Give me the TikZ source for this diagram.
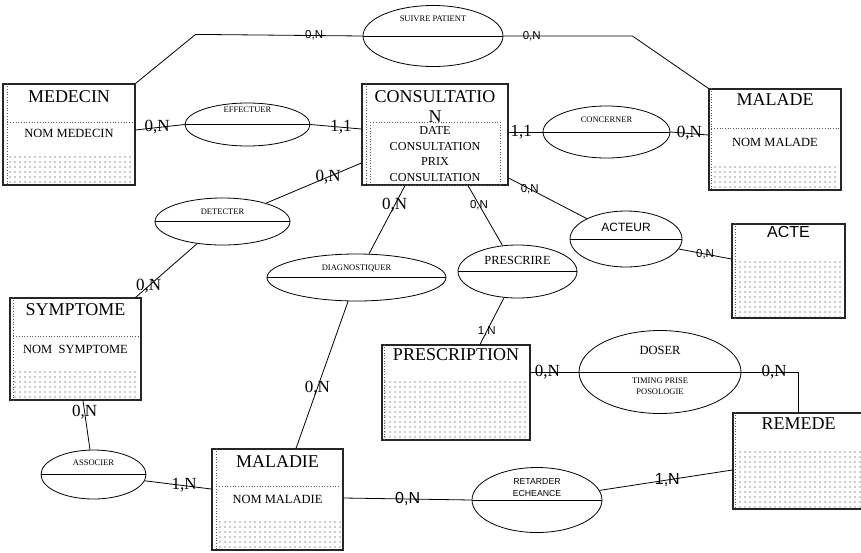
\documentclass[tikz,border=0pt]{standalone}
\usepackage{fontspec}
\setmainfont{Liberation Serif}
\setsansfont{Liberation Sans}
\usepackage{tikz}
\usetikzlibrary{positioning, shapes.geometric, patterns.meta}

\begin{document}
\begin{tikzpicture}[
    x=1pt, y=-1pt,
    entity/.style={rectangle, draw=black!85, line width=1.2pt, inner sep=0pt},
    rel/.style={ellipse, draw=black, line width=0.8pt, inner sep=0pt,
                path picture={\draw[line width=0.8pt] (path picture bounding box.west) -- (path picture bounding box.east);}},
    ttl/.style={inner sep=0pt, font=\fontsize{18}{20}\selectfont, align=center},
    attr/.style={inner sep=0pt, font=\fontsize{12.5}{15.7}\selectfont, align=center},
    rtext/.style={inner sep=0pt, font=\fontsize{8.5}{11}\selectfont, align=center},
    card/.style={inner sep=0pt, font=\fontsize{17}{17}\selectfont},
    cardsf/.style={inner sep=0pt, font=\sffamily\fontsize{11.5}{12}\selectfont},
    cardsfl/.style={inner sep=0pt, font=\sffamily\fontsize{16}{16}\selectfont},
    link/.style={line width=0.8pt},
    dotline/.style={dotted, line width=0.7pt, black!65},
    dotzone/.style={pattern={Dots[distance=5pt, radius=0.55pt]}, pattern color=black!85}
]
\useasboundingbox (0,0) rectangle (861,552);

% entites
\node[entity, minimum width=132, minimum height=101] (medecin) at (69,134.5) {};
\node[ttl, below=7pt of medecin.north] (medecin-t) {MEDECIN};
\draw[dotline] ([xshift=5pt]medecin.north west) -- ([xshift=5pt]medecin.south west);
\draw[dotline] ([xshift=5pt,yshift=-39pt]medecin.north west) -- ([xshift=-3pt,yshift=-39pt]medecin.north east);
\node[attr] (medecin-a) at ([yshift=-50pt]medecin.north) {NOM MEDECIN};
\fill[dotzone] ([xshift=5pt]medecin.south west) rectangle ([xshift=-3pt,yshift=32pt]medecin.south east);

\node[entity, minimum width=146, minimum height=101] (consult) at (435,134.5) {};
\node[ttl, below=7pt of consult.north] (consult-t) {CONSULTATIO\\N};
\draw[dotline] ([xshift=5pt]consult.north west) -- ([xshift=5pt]consult.south west);
\draw[dotline] ([xshift=9pt,yshift=-39pt]consult.north west) rectangle ([xshift=-8pt]consult.south east);
\node[attr, font=\fontsize{12.2}{15.7}\selectfont] (consult-a) at ([yshift=-70.5pt]consult.north) {DATE\\CONSULTATION\\PRIX\\CONSULTATION};

\node[entity, minimum width=132, minimum height=101] (malade) at (775,139.5) {};
\node[ttl, below=5pt of malade.north] (malade-t) {MALADE};
\draw[dotline] ([xshift=3pt]malade.north west) -- ([xshift=3pt]malade.south west);
\draw[dotline] ([xshift=3pt,yshift=-40pt]malade.north west) -- ([xshift=-3pt,yshift=-40pt]malade.north east);
\node[attr] (malade-a) at ([yshift=-54pt]malade.north) {NOM MALADE};
\fill[dotzone] ([xshift=3pt]malade.south west) rectangle ([xshift=-3pt,yshift=26pt]malade.south east);

\node[entity, minimum width=113, minimum height=94] (acte) at (788.5,271) {};
\node[ttl, font=\sffamily\fontsize{16}{18}\selectfont, below=3pt of acte.north] (acte-t) {ACTE};
\draw[dotline] ([xshift=4pt]acte.north west) -- ([xshift=4pt]acte.south west);
\fill[dotzone] ([xshift=4pt]acte.south west) rectangle ([xshift=-3pt,yshift=59pt]acte.south east);

\node[entity, minimum width=131, minimum height=102] (symptome) at (75.5,349) {};
\node[ttl, below=6pt of symptome.north] (symptome-t) {SYMPTOME};
\draw[dotline] ([xshift=4pt]symptome.north west) -- ([xshift=4pt]symptome.south west);
\draw[dotline] ([xshift=4pt,yshift=-39pt]symptome.north west) -- ([xshift=-3pt,yshift=-39pt]symptome.north east);
\node[attr] (symptome-a) at ([yshift=-52pt]symptome.north) {NOM~~SYMPTOME};
\fill[dotzone] ([xshift=4pt]symptome.south west) rectangle ([xshift=-3pt,yshift=30pt]symptome.south east);

\node[entity, minimum width=148, minimum height=95] (prescription) at (456,392.5) {};
\node[ttl, below=4pt of prescription.north] (prescription-t) {PRESCRIPTION};
\draw[dotline] ([xshift=3pt]prescription.north west) -- ([xshift=3pt]prescription.south west);
\fill[dotzone] ([xshift=3pt]prescription.south west) rectangle ([xshift=-3pt,yshift=60pt]prescription.south east);

\node[entity, minimum width=131, minimum height=101] (maladie) at (277.5,499.5) {};
\node[ttl, below=7pt of maladie.north] (maladie-t) {MALADIE};
\draw[dotline] ([xshift=5pt]maladie.north west) -- ([xshift=5pt]maladie.south west);
\draw[dotline] ([xshift=5pt,yshift=-38pt]maladie.north west) -- ([xshift=-3pt,yshift=-38pt]maladie.north east);
\node[attr] (maladie-a) at ([yshift=-51pt]maladie.north) {NOM MALADIE};
\fill[dotzone] ([xshift=5pt]maladie.south west) rectangle ([xshift=-3pt,yshift=32pt]maladie.south east);

\node[entity, minimum width=131, minimum height=96] (remede) at (798.5,461) {};
\node[ttl, below=5pt of remede.north] (remede-t) {REMEDE};
\draw[dotline] ([xshift=3pt]remede.north west) -- ([xshift=3pt]remede.south west);
\fill[dotzone] ([xshift=3pt]remede.south west) rectangle ([xshift=-3pt,yshift=61pt]remede.south east);

% associations
\node[rel, minimum width=140, minimum height=61] (suivre) at (433,36) {};
\node[rtext, above=14pt of suivre.center] (suivre-t) {SUIVRE PATIENT};

\node[rel, minimum width=125, minimum height=43] (effectuer) at (247.5,124.5) {};
\node[rtext, above=11.5pt of effectuer.center] (effectuer-t) {EFFECTUER};

\node[rel, minimum width=127, minimum height=52] (concerner) at (606.5,132) {};
\node[rtext, above=9pt of concerner.center] (concerner-t) {CONCERNER};

\node[rel, minimum width=135, minimum height=47] (detecter) at (222.5,221.5) {};
\node[rtext, above=6.5pt of detecter.center] (detecter-t) {DETECTER};

\node[rel, minimum width=179, minimum height=47] (diag) at (356.5,277.5) {};
\node[rtext, above=5.5pt of diag.center] (diag-t) {DIAGNOSTIQUER};

\node[rel, minimum width=119, minimum height=53] (prescrire) at (517.5,271.5) {};
\node[rtext, font=\fontsize{12.4}{14}\selectfont, above=6.5pt of prescrire.center] (prescrire-t) {PRESCRIRE};

\node[rel, minimum width=112, minimum height=56] (acteur) at (626,239) {};
\node[rtext, font=\sffamily\fontsize{12}{14}\selectfont, above=7pt of acteur.center] (acteur-t) {ACTEUR};

\node[rel, minimum width=162, minimum height=83] (doser) at (660,372) {};
\node[rtext, font=\fontsize{12.5}{14}\selectfont, above=17.5pt of doser.center] (doser-t) {DOSER};
\node[rtext, below=6pt of doser.center] (doser-a) {TIMING PRISE\\POSOLOGIE};

\node[rel, minimum width=105, minimum height=49] (associer) at (93.5,474.5) {};
\node[rtext, above=8.5pt of associer.center] (associer-t) {ASSOCIER};

\node[rel, minimum width=130, minimum height=65] (retarder) at (537,500) {};
\node[rtext, font=\sffamily\fontsize{8.7}{12}\selectfont, above=3pt of retarder.center] (retarder-t) {RETARDER\\ECHEANCE};

% liens
\draw[link] (medecin.north east) -- ++(60,-49) -- node[cardsf, pos=0.71] (c1) {0,N} (suivre.west);
\draw[link] (suivre.east) -- node[cardsf, pos=0.22] (c2) {0,N} ++(129,0) -- (malade.north west);
\draw[link] (medecin.east |- 0,130) -- node[card, pos=0.44] (c3) {0,N} (effectuer.west);
\draw[link] (effectuer.east) -- node[card, pos=0.6] (c4) {1,1} (consult.west |- 0,129);
\draw[link] (consult.east |- 0,132) -- node[card, pos=0.37] (c5) {1,1} (concerner.west);
\draw[link] (concerner.east) -- node[card, pos=0.5] (c6) {0,N} (malade.west |- 0,135);
\draw[link] (consult.west |- 0,163) -- node[card, pos=0.35] (c7) {0,N} (detecter);
\draw[link] (detecter) -- node[card, pos=0.79] (c8) {0,N} ([xshift=-6pt]symptome.north east);
\draw[link] (consult.south -| 405,0) -- node[card, pos=0.29] (c9) {0,N} (diag);
\draw[link] (diag) -- node[card, pos=0.59] (c10) {0,N} (maladie.north -| 296,0);
\draw[link] (consult.south -| 468,0) -- node[cardsf, pos=0.32] (c11) {0,N} (prescrire);
\draw[link] (prescrire) -- node[cardsf, pos=0.72] (c12) {1,N} (prescription.north -| 480,0);
\draw[link] (consult.east |- 0,178) -- node[cardsf, pos=0.27] (c13) {0,N} (acteur);
\draw[link] (acteur) -- node[cardsf, pos=0.5] (c14) {0,N} (acte.west |- 0,259);
\draw[link] (prescription.east |- 0,372) -- node[card, pos=0.35] (c15) {0,N} (doser.west);
\draw[link] (doser.east) -| node[card, pos=0.29] (c16) {0,N} ([xshift=-0.5pt]remede.north);
\draw[link] (symptome.south -| 83,0) -- node[card, pos=0.24] (c17) {0,N} (associer);
\draw[link] (associer) -- node[card, pos=0.59] (c18) {1,N} (maladie.west |- 0,489);
\draw[link] (maladie.east |- 0,498) -- node[cardsfl, pos=0.5] (c19) {0,N} (retarder.west);
\draw[link] (retarder) -- node[cardsfl, pos=0.51] (c20) {1,N} (remede.west |- 0,470);
\end{tikzpicture}
\end{document}
